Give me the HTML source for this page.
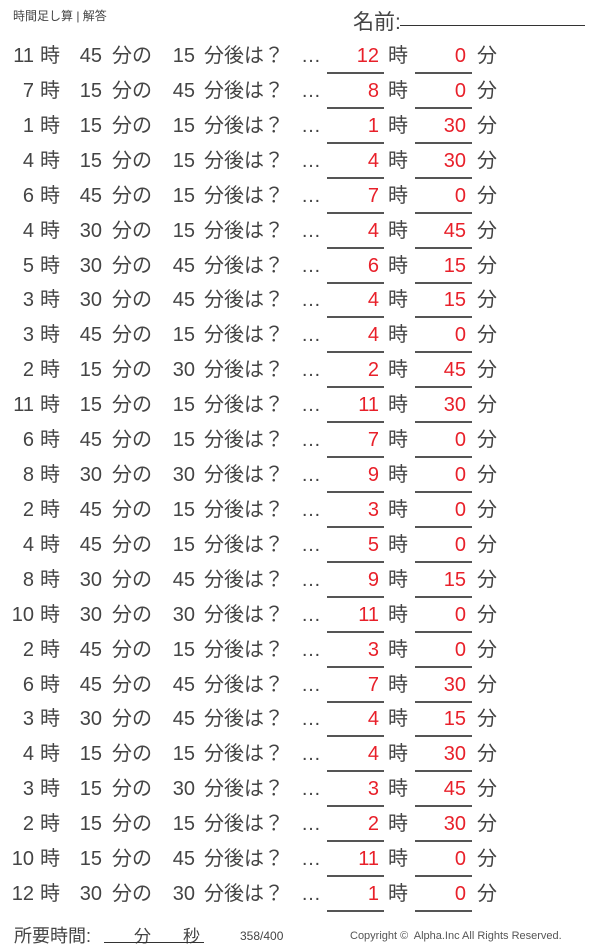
<!DOCTYPE html>
<html><head><meta charset="utf-8"><style>
body{margin:0;width:600px;height:949px;background:#fff;position:relative;overflow:hidden;font-family:"Liberation Sans","Noto Sans CJK JP",sans-serif;color:#444}
.a{position:absolute;white-space:nowrap}
.r{position:absolute;left:0;width:600px;height:35px;font-size:20px;line-height:24px}
.r span{position:absolute;top:0}
.n{text-align:right}
.red{color:#e8202a}
.u{position:absolute;height:2px;background:#555}
</style></head><body>
<div class="a" style="left:13px;top:7px;font-size:12px;">時間足し算 | 解答</div>
<div class="a" style="left:353px;top:6px;font-size:21px;">名前:</div>
<div class="u" style="left:400px;top:25px;width:185px;height:1px;background:#333"></div>
<div id="rows"></div>
<div class="a" style="left:14px;top:922px;font-size:18px;">所要時間:</div>
<div class="a" style="left:134px;top:922px;font-size:17px;">分</div>
<div class="a" style="left:183px;top:922px;font-size:17px;">秒</div>
<div class="u" style="left:104px;top:942px;width:100px;height:1px;background:#333"></div>
<div class="a" style="left:240px;top:929px;font-size:12px;">358/400</div>
<div class="a" style="left:350px;top:930px;font-size:11px;color:#555">Copyright ©&nbsp; Alpha.Inc All Rights Reserved.</div>
<script>
var d=[[11,45,15,12,0],[7,15,45,8,0],[1,15,15,1,30],[4,15,15,4,30],[6,45,15,7,0],[4,30,15,4,45],[5,30,45,6,15],[3,30,45,4,15],[3,45,15,4,0],[2,15,30,2,45],[11,15,15,11,30],[6,45,15,7,0],[8,30,30,9,0],[2,45,15,3,0],[4,45,15,5,0],[8,30,45,9,15],[10,30,30,11,0],[2,45,15,3,0],[6,45,45,7,30],[3,30,45,4,15],[4,15,15,4,30],[3,15,30,3,45],[2,15,15,2,30],[10,15,45,11,0],[12,30,30,1,0]];
var h='';
d.forEach(function(x,i){var t=44+i*34.92;
h+='<div class="r" style="top:'+t+'px">'+
'<span class="n" style="left:0;width:34px">'+x[0]+'</span>'+
'<span style="left:40px">時</span>'+
'<span class="n" style="left:60px;width:42px">'+x[1]+'</span>'+
'<span style="left:112px">分の</span>'+
'<span class="n" style="left:150px;width:45px">'+x[2]+'</span>'+
'<span style="left:204px">分後は？</span>'+
'<span style="left:301px">…</span>'+
'<span class="n red" style="left:330px;width:49px">'+x[3]+'</span>'+
'<span style="left:388px">時</span>'+
'<span class="n red" style="left:420px;width:46px">'+x[4]+'</span>'+
'<span style="left:477px">分</span></div>'+
'<div class="u" style="left:327px;top:'+(t+28)+'px;width:57px"></div>'+
'<div class="u" style="left:415px;top:'+(t+28)+'px;width:57px"></div>';});
document.getElementById('rows').innerHTML=h;
</script>
</body></html>
